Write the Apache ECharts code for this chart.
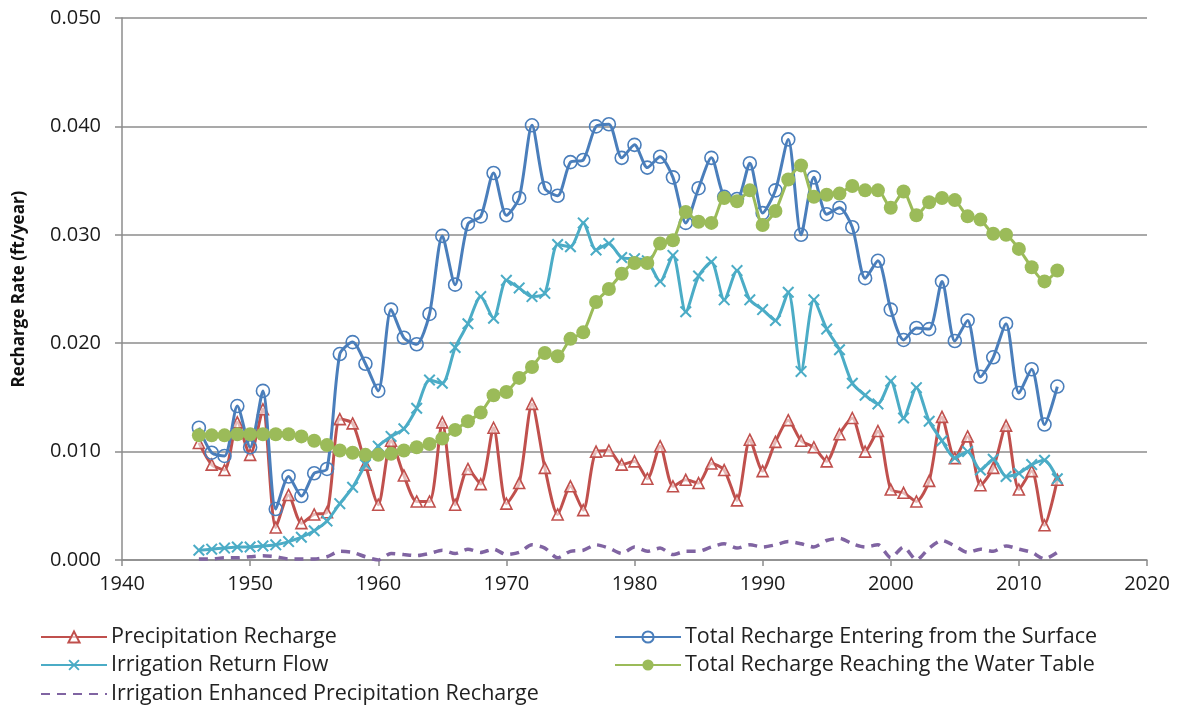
<!DOCTYPE html>
<html>
<head>
<meta charset="utf-8">
<script src="https://cdn.jsdelivr.net/npm/echarts@6/dist/echarts.min.js"></script>
<style>
  html, body { margin: 0; padding: 0; background: #fff; }
  #chart { width: 1177px; height: 708px; }
</style>
</head>
<body>
<div id="chart"></div>
<script>
// Annual recharge rates (ft/year), 1946-2013
const startYear = 1946;
const endYear = 2013;

const precipitationRecharge = [
  0.0108, 0.0088, 0.0083, 0.0127, 0.0097, 0.0139, 0.0030, 0.0060, 0.0034, 0.0042,
  0.0044, 0.0130, 0.0126, 0.0088, 0.0051, 0.0110, 0.0078, 0.0054, 0.0054, 0.0127,
  0.0051, 0.0084, 0.0070, 0.0122, 0.0052, 0.0071, 0.0144, 0.0085, 0.0042, 0.0068,
  0.0046, 0.0100, 0.0101, 0.0088, 0.0091, 0.0075, 0.0105, 0.0068, 0.0074, 0.0071,
  0.0089, 0.0083, 0.0055, 0.0111, 0.0082, 0.0109, 0.0129, 0.0110, 0.0104, 0.0091,
  0.0116, 0.0131, 0.0100, 0.0119, 0.0065, 0.0062, 0.0054, 0.0073, 0.0132, 0.0094,
  0.0114, 0.0069, 0.0085, 0.0124, 0.0065, 0.0082, 0.0032, 0.0074
];

const totalFromSurface = [
  0.0122, 0.0099, 0.0096, 0.0142, 0.0104, 0.0156, 0.0047, 0.0077, 0.0059, 0.0080,
  0.0084, 0.0190, 0.0201, 0.0181, 0.0156, 0.0231, 0.0205, 0.0199, 0.0227, 0.0299,
  0.0254, 0.0310, 0.0317, 0.0357, 0.0318, 0.0334, 0.0401, 0.0343, 0.0336, 0.0367,
  0.0369, 0.0400, 0.0402, 0.0371, 0.0383, 0.0362, 0.0372, 0.0353, 0.0311, 0.0343,
  0.0371, 0.0335, 0.0333, 0.0366, 0.0320, 0.0341, 0.0388, 0.0300, 0.0353, 0.0319,
  0.0325, 0.0307, 0.0260, 0.0276, 0.0231, 0.0203, 0.0214, 0.0213, 0.0257, 0.0202,
  0.0221, 0.0169, 0.0187, 0.0218, 0.0154, 0.0176, 0.0125, 0.0160
];

const irrigationReturnFlow = [
  0.0009, 0.0010, 0.0011, 0.0012, 0.0012, 0.0013, 0.0014, 0.0017, 0.0021, 0.0027,
  0.0036, 0.0052, 0.0067, 0.0088, 0.0105, 0.0114, 0.0121, 0.0140, 0.0166, 0.0163,
  0.0196, 0.0218, 0.0243, 0.0223, 0.0258, 0.0251, 0.0243, 0.0246, 0.0291, 0.0289,
  0.0311, 0.0286, 0.0292, 0.0279, 0.0278, 0.0276, 0.0257, 0.0281, 0.0229, 0.0262,
  0.0275, 0.0240, 0.0267, 0.0240, 0.0231, 0.0221, 0.0247, 0.0174, 0.0240, 0.0213,
  0.0194, 0.0163, 0.0152, 0.0144, 0.0165, 0.0131, 0.0159, 0.0128, 0.0110, 0.0094,
  0.0100, 0.0083, 0.0093, 0.0077, 0.0080, 0.0088, 0.0092, 0.0075
];

const totalToWaterTable = [
  0.0115, 0.0115, 0.0115, 0.0116, 0.0116, 0.0116, 0.0116, 0.0116, 0.0114, 0.0110,
  0.0106, 0.0101, 0.0099, 0.0097, 0.0097, 0.0098, 0.0101, 0.0104, 0.0107, 0.0112,
  0.0120, 0.0128, 0.0136, 0.0152, 0.0155, 0.0168, 0.0178, 0.0191, 0.0188, 0.0204,
  0.0210, 0.0238, 0.0250, 0.0264, 0.0274, 0.0274, 0.0292, 0.0295, 0.0321, 0.0312,
  0.0311, 0.0334, 0.0331, 0.0341, 0.0309, 0.0322, 0.0351, 0.0364, 0.0335, 0.0337,
  0.0338, 0.0345, 0.0341, 0.0341, 0.0325, 0.0340, 0.0318, 0.0330, 0.0334, 0.0332,
  0.0317, 0.0314, 0.0301, 0.0300, 0.0287, 0.0270, 0.0257, 0.0267
];

const irrigationEnhanced = [
  0.0001, 0.0001, 0.0002, 0.0002, 0.0003, 0.0004, 0.0003, 0.0001, 0.0001, 0.0001,
  0.0003, 0.0008, 0.0007, 0.0003, 0.0000, 0.0006, 0.0005, 0.0004, 0.0006, 0.0009,
  0.0006, 0.0010, 0.0007, 0.0010, 0.0005, 0.0007, 0.0014, 0.0011, 0.0002, 0.0008,
  0.0009, 0.0014, 0.0011, 0.0006, 0.0012, 0.0008, 0.0011, 0.0005, 0.0008, 0.0008,
  0.0012, 0.0015, 0.0011, 0.0014, 0.0012, 0.0014, 0.0017, 0.0015, 0.0012, 0.0018,
  0.0020, 0.0015, 0.0012, 0.0014, 0.0002, 0.0012, 0.0000, 0.0011, 0.0018, 0.0013,
  0.0007, 0.0010, 0.0008, 0.0013, 0.0010, 0.0007, 0.0001, 0.0007
];

const seriesNames = [
  'Precipitation Recharge',
  'Total Recharge Entering from the Surface',
  'Irrigation Return Flow',
  'Total Recharge Reaching the Water Table',
  'Irrigation Enhanced Precipitation Recharge'
];

const years = [];
for (let y = startYear; y <= endYear; y++) years.push(y);

const pairs = (vals) => vals.map((v, i) => [years[i], v]);

const FONT = '"Open Sans", "DejaVu Sans", sans-serif';
const xShape = 'path://M0,1.2L1.2,0L5,3.8L8.8,0L10,1.2L6.2,5L10,8.8L8.8,10L5,6.2L1.2,10L0,8.8L3.8,5Z';

// one legend block per entry, laid out in two columns under the plot
const legendSlots = [
  { name: seriesNames[0], left: 40, top: 626 },
  { name: seriesNames[1], left: 614, top: 626 },
  { name: seriesNames[2], left: 40, top: 654 },
  { name: seriesNames[3], left: 614, top: 654 },
  { name: seriesNames[4], left: 40, top: 683, hideSymbol: true }
];

const legends = legendSlots.map((s) => ({
  left: s.left, top: s.top, padding: 0,
  itemWidth: 66, itemHeight: 14, itemGap: 0,
  textStyle: { fontSize: 21.5, color: '#222', fontFamily: FONT, padding: [0, 0, 0, -1] },
  data: [s.hideSymbol ? { name: s.name, itemStyle: { opacity: 0 } } : s.name]
}));

const chart = echarts.init(document.getElementById('chart'), null, { renderer: 'canvas' });

chart.setOption({
  animation: false,
  backgroundColor: '#ffffff',
  grid: { left: 122, right: 30, top: 18, bottom: 148, containLabel: false },
  xAxis: {
    type: 'value',
    min: 1940, max: 2020, interval: 10,
    axisLine: { show: true, lineStyle: { color: '#8c8c8c', width: 1.5 } },
    axisTick: { show: true, length: 6, inside: false, lineStyle: { color: '#8c8c8c', width: 1.5 } },
    axisLabel: { margin: 14, fontSize: 20, color: '#1a1a1a', fontFamily: FONT, formatter: (v) => String(v) },
    splitLine: { show: false }
  },
  yAxis: {
    type: 'value',
    min: 0, max: 0.05, interval: 0.01,
    name: 'Recharge Rate (ft/year)',
    nameLocation: 'middle',
    nameGap: 94,
    nameTextStyle: { fontSize: 17, fontWeight: 'bold', color: '#111', fontFamily: FONT },
    axisLine: { show: true, lineStyle: { color: '#8c8c8c', width: 1.5 } },
    axisTick: { show: true, length: 7, lineStyle: { color: '#8c8c8c', width: 1.5 } },
    axisLabel: {
      margin: 21, fontSize: 20, color: '#1a1a1a', fontFamily: FONT,
      formatter: (v) => v.toFixed(3)
    },
    splitLine: { show: true, lineStyle: { color: '#8c8c8c', width: 1.5 } }
  },
  legend: legends,
  series: [
    {
      name: seriesNames[0],
      type: 'line',
      data: pairs(precipitationRecharge),
      smooth: 0.25,
      symbol: 'triangle', symbolSize: 11,
      lineStyle: { color: '#C0504D', width: 3 },
      itemStyle: { color: 'rgba(255,255,255,0.6)', borderColor: '#C0504D', borderWidth: 1.6 },
      z: 2
    },
    {
      name: seriesNames[1],
      type: 'line',
      data: pairs(totalFromSurface),
      smooth: 0.25,
      symbol: 'circle', symbolSize: 13,
      lineStyle: { color: '#4A7EBB', width: 3 },
      itemStyle: { color: 'rgba(255,255,255,0)', borderColor: '#4A7EBB', borderWidth: 1.6 },
      z: 3
    },
    {
      name: seriesNames[2],
      type: 'line',
      data: pairs(irrigationReturnFlow),
      smooth: 0.25,
      symbol: xShape, symbolSize: 12,
      lineStyle: { color: '#4BACC6', width: 3 },
      itemStyle: { color: '#4BACC6', borderWidth: 0 },
      z: 4
    },
    {
      name: seriesNames[3],
      type: 'line',
      data: pairs(totalToWaterTable),
      smooth: 0.25,
      symbol: 'circle', symbolSize: 14,
      lineStyle: { color: '#9BBB59', width: 3 },
      itemStyle: { color: '#9BBB59', borderWidth: 0 },
      z: 5
    },
    {
      name: seriesNames[4],
      type: 'line',
      data: pairs(irrigationEnhanced),
      smooth: 0.25,
      showSymbol: false,
      lineStyle: { color: '#8064A2', width: 3.5, type: [9, 7] },
      itemStyle: { color: '#8064A2' },
      z: 6
    }
  ]
});
</script>
</body>
</html>
